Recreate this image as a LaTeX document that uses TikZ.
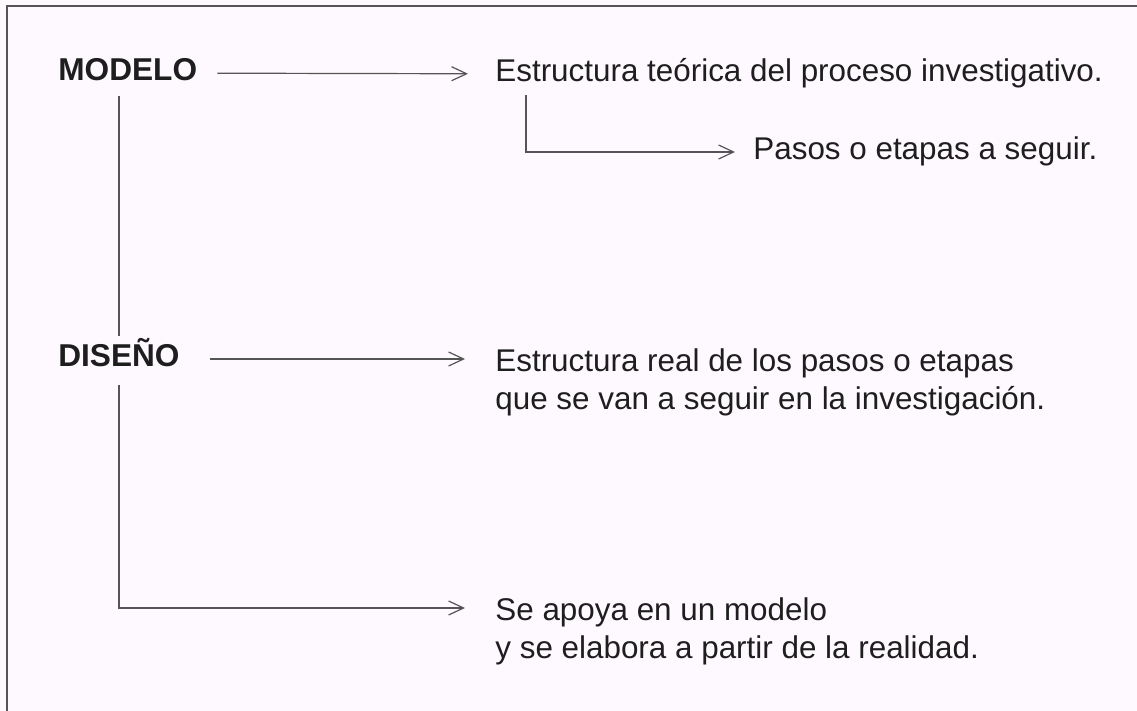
\documentclass[tikz,border=0pt]{standalone}
\usepackage{fontspec}
\setmainfont{Liberation Sans}
\usepackage{tikz}
\usetikzlibrary{arrows.meta}

\definecolor{paper}{RGB}{254,249,254}
\definecolor{ink}{RGB}{30,30,30}
\definecolor{rule}{RGB}{85,85,85}

\begin{document}
\begin{tikzpicture}[
  x=0.5pt, y=-0.5pt,
  term/.style={
    inner sep=0pt, font=\fontsize{15.8}{19}\selectfont\bfseries,
    text=ink, text height=0.716em, text depth=0pt, anchor=west
  },
  desc/.style={
    inner sep=0pt, font=\fontsize{15.7}{19}\selectfont,
    text=ink, align=left
  },
  oneline/.style={desc, text height=0.716em, text depth=0pt, anchor=west},
  arrow/.style={draw=rule, line width=0.6pt,
    -{Straight Barb[length=7.5pt, width=7pt, line width=0.6pt]}},
  link/.style={draw=rule, line width=0.6pt}
]
  \useasboundingbox[fill=paper] (0,0) rectangle (1137,711);
  % Frame (top and left edges only)
  \draw[rule, line width=0.9pt] (7,711) -- (7,6) -- (1137,6);

  % Terms
  \node[term] (modelo) at (58,73) {MODELO};
  \node[term] (diseno) at (58,359) {DISEÑO};

  % Descriptions
  \node[oneline] (teorica) at (495,74.5) {Estructura teórica del proceso investigativo.};
  \node[oneline] (pasos) at (753,152) {Pasos o etapas a seguir.};
  \node[desc, anchor=north west] (real) at (495,348)
    {Estructura real de los pasos o etapas\\que se van a seguir en la investigación.};
  \node[desc, anchor=north west] (apoya) at (495,597)
    {Se apoya en un modelo\\y se elabora a partir de la realidad.};
  \coordinate (apoyaln) at ([yshift=-5.5pt]apoya.north west);

  % Arrows
  \draw[arrow, shorten <=10pt, shorten >=13.5pt] (modelo) -- (teorica);
  \draw[arrow, shorten <=15pt, shorten >=15pt] (diseno.east) -- (diseno.east -| real.west);
  \draw[arrow, shorten <=6.5pt, shorten >=9pt] ([xshift=15.5pt]teorica.south west) |- (pasos.west);
  \draw[link, shorten <=7.5pt, shorten >=7.5pt] (diseno.north |- modelo.south) -- (diseno.north);
  \draw[arrow, shorten <=9pt, shorten >=15pt] (diseno.south) |- (apoyaln);
\end{tikzpicture}
\end{document}
